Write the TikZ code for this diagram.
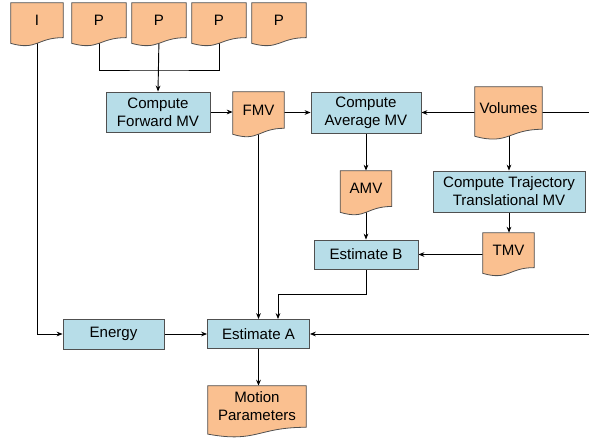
\documentclass[tikz,border=0pt]{standalone}
\usepackage{fontspec}
\setmainfont{Liberation Sans}
\usetikzlibrary{calc,arrows.meta}
\pgfdeclarelayer{lines}
\pgfdeclarelayer{docs}
\pgfsetlayers{lines,docs,main}
\definecolor{docfill}{HTML}{FAC090}
\definecolor{procfill}{HTML}{B7DDE8}
\definecolor{edgegray}{HTML}{505050}
\tikzset{
  wh/.style 2 args={minimum width=#1*0.75pt, minimum height=#2*0.75pt},
  txt/.style={align=center, inner sep=0pt, font=\fontsize{11.3}{13.5}\selectfont},
  proc/.style={txt, draw=edgegray, fill=procfill, line width=0.6pt},
  doc/.style={txt},
  docshape/.style={draw=edgegray, fill=docfill, line width=0.6pt},
  wire/.style={line width=0.7pt},
  flow/.style={wire, -{Stealth[length=4.5pt,width=3.5pt]}}
}
\begin{document}
\begin{tikzpicture}[x=0.75pt,y=-0.75pt]
\useasboundingbox (0,0) rectangle (589,446);

% input frames
\node[doc, wh={52}{34.3}] (I) at (37,20.2) {I};
\node[doc, wh={54}{34.3}] (P1) at (99,20.2) {P};
\node[doc, wh={54}{34.3}] (P2) at (159,20.2) {P};
\node[doc, wh={54}{34.3}] (P3) at (219,20.2) {P};
\node[doc, wh={54}{34.3}] (P4) at (279,20.2) {P};

% motion vectors
\node[proc, wh={104}{40}] (CFMV) at (158,112) {Compute\\Forward MV};
\node[doc, wh={51}{36}] (FMV) at (258.5,110) {FMV};
\node[proc, wh={110}{41}] (CAMV) at (366,112.5) {Compute\\Average MV};
\node[doc, wh={67}{42}] (Volumes) at (508.5,108) {Volumes};
\node[doc, wh={51}{35.2}] (AMV) at (366,188.6) {AMV};
\node[proc, wh={152}{41}] (CTT) at (509,191.5) {Compute Trajectory\\Translational MV};
\node[doc, wh={51}{34.3}] (TMV) at (508.5,250.2) {TMV};
\node[proc, wh={104}{29}] (EstB) at (366,254.5) {Estimate B};

% estimation
\node[proc, wh={101}{30}] (Energy) at (113.5,334) {Energy};
\node[proc, wh={102}{29}] (EstA) at (258.5,334) {Estimate A};
\node[doc, wh={98}{41}] (MP) at (257,406.5) {Motion\\Parameters};

\coordinate (pjoin) at (159,70);
\coordinate (bjoin) at (278,294);
\coordinate (rtop) at (589,112);
\coordinate (rbot) at (589,334);

\begin{pgfonlayer}{docs}
\foreach \d in {I,P1,P2,P3,P4,FMV,Volumes,AMV,TMV,MP}
  \draw[docshape] let \p1=(\d.north west), \p2=(\d.south east), \n1={\y1-\y2} in
    (\p1) -- (\x2,\y1) -- (\p2)
    .. controls ({(\x1+\x2)/2},\y2) and ({(\x1+\x2)/2},{\y2-0.381*\n1}) .. (\x1,{\y2-0.1646*\n1}) -- cycle;
\end{pgfonlayer}

\begin{pgfonlayer}{lines}
\draw[wire] (P1.south) |- (pjoin) -| (P3.south);
\draw[flow] (P2.south) -- (CFMV.north);
\draw[flow] (CFMV.east) -- (CFMV.east -| FMV.west);
\draw[flow] (CAMV.west -| FMV.east) -- (CAMV.west);
\draw[flow] (CAMV.east -| Volumes.west) -- (CAMV.east);
\draw[wire] (rtop -| Volumes.east) -- (rtop);
\draw[flow] (CTT.north |- Volumes.south) -- (CTT.north);
\draw[flow] (CAMV.south) -- (AMV.north);
\draw[flow] (AMV.south) -- (EstB.north);
\draw[flow] (CTT.south) -- (CTT.south |- TMV.north);
\draw[flow] (EstB.east -| TMV.west) -- (EstB.east);
\draw[flow] (EstB.south) |- (bjoin) -- (bjoin |- EstA.north);
\draw[flow] (FMV.south) -- (FMV.south |- EstA.north);
\draw[flow] (I.south) |- (Energy.west);
\draw[flow] (Energy.east) -- (EstA.west);
\draw[flow] (rbot) -- (rbot -| EstA.east);
\draw[flow] (EstA.south) -- (EstA.south |- MP.north);
\end{pgfonlayer}
\end{tikzpicture}
\end{document}
